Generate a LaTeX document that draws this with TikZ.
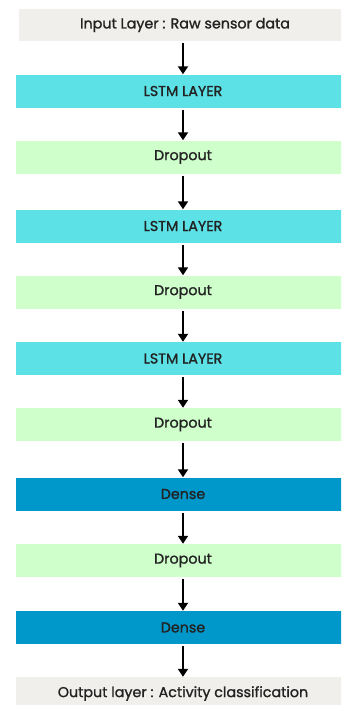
\documentclass[tikz,border=0pt]{standalone}
\usepackage{fontspec}
\setmainfont{Poppins}[FakeBold=1.2]
\usetikzlibrary{arrows.meta}
\definecolor{inGray}{HTML}{F0EFEB}
\definecolor{lstmC}{HTML}{5CE1E6}
\definecolor{dropC}{HTML}{CFFFCB}
\definecolor{denseC}{HTML}{0097CA}
\definecolor{txtC}{HTML}{222222}
\tikzset{
  layer/.style={rectangle, minimum width=334pt, minimum height=33pt, inner sep=0pt,
    font=\fontsize{14.3}{16}\selectfont, text=txtC},
  io/.style={layer, fill=inGray},
  lstm/.style={layer, fill=lstmC},
  drop/.style={layer, fill=dropC},
  dense/.style={layer, fill=denseC},
  flow/.style={line width=2.6pt, -{Triangle[width=10pt,length=8pt]}, shorten <=2pt}
}
\begin{document}
\begin{tikzpicture}[x=1pt,y=1pt]
\useasboundingbox (0,0) rectangle (341,-705);
\clip (0,0) rectangle (341,-705);
\node[io, minimum width=332pt, minimum height=32pt] (in) at (185,-25) {Input Layer : Raw sensor data};
\node[lstm] (l1) at (183,-91) {LSTM LAYER};
\node[drop] (d1) at (183,-157) {Dropout};
\node[lstm] (l2) at (183,-226) {LSTM LAYER};
\node[drop] (d2) at (183,-292) {Dropout};
\node[lstm] (l3) at (183,-358.5) {LSTM LAYER};
\node[drop] (d3) at (183,-424.5) {Dropout};
\node[dense] (de1) at (183,-494) {Dense};
\node[drop] (d4) at (183,-560.5) {Dropout};
\node[dense] (de2) at (183,-627.5) {Dense};
\node[io] (out) at (183,-693.5) {Output layer : Activity classification};
\foreach \a/\b in {in/l1,l1/d1,d1/l2,l2/d2,d2/l3,l3/d3,d3/de1,de1/d4,d4/de2,de2/out}
  \draw[flow] (\a.south -| 183,0) -- (\b.north -| 183,0);
\end{tikzpicture}
\end{document}
